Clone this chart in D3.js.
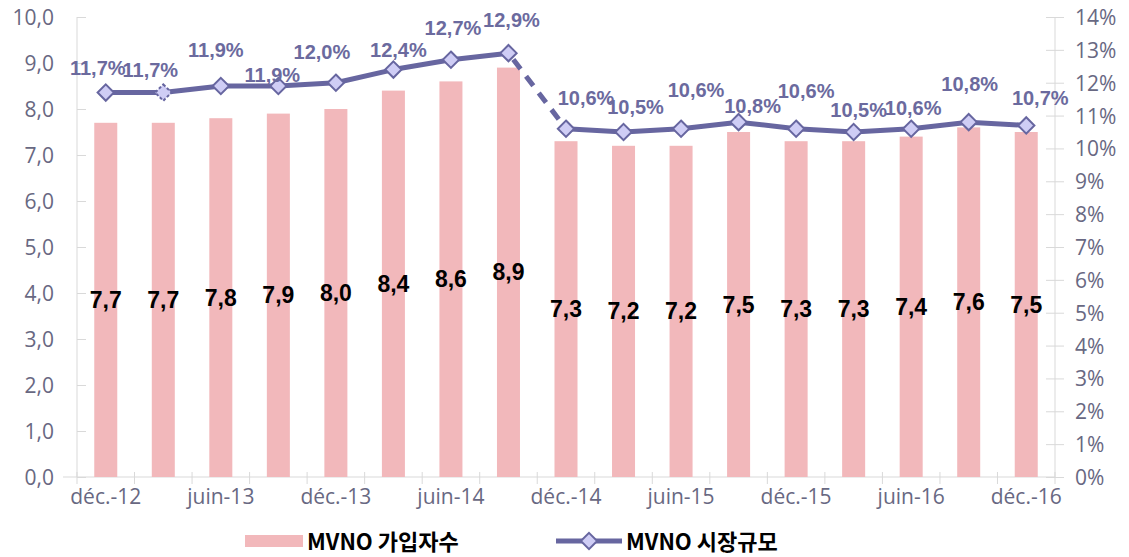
<!DOCTYPE html>
<html>
<head>
<meta charset="utf-8">
<script src="https://cdn.jsdelivr.net/npm/d3@7"></script>
<style>
  body { margin: 0; background: #fff; }
  svg text { font-family: "Open Sans", "Noto Sans", sans-serif; }
  .axis text { fill: #686882; font-size: 21px; }
  .axis path, .axis line { stroke: #d9d9d9; }
  .bar-label { font-family: "Liberation Sans", Arial, sans-serif !important; font-weight: bold; font-size: 23px; fill: #000; }
  .pct-label { font-family: "Liberation Sans", Arial, sans-serif !important; font-weight: bold; font-size: 20px; fill: #6b6a9e; }
  .legend text { font-family: "Noto Sans CJK KR", "Liberation Sans", sans-serif !important; font-weight: bold; font-size: 22px; fill: #000; }
</style>
</head>
<body>
<svg id="chart"></svg>
<script>
// ========== data
const categories = ['déc.-12', 'mars-13', 'juin-13', 'sept.-13', 'déc.-13', 'mars-14', 'juin-14', 'sept.-14',
  'déc.-14', 'mars-15', 'juin-15', 'sept.-15', 'déc.-15', 'mars-16', 'juin-16', 'sept.-16', 'déc.-16'];
const subscribers = [7.7, 7.7, 7.8, 7.9, 8.0, 8.4, 8.6, 8.9, 7.3, 7.2, 7.2, 7.5, 7.3, 7.3, 7.4, 7.6, 7.5];
const marketShare = [11.7, 11.7, 11.9, 11.9, 12.0, 12.4, 12.7, 12.9, 10.6, 10.5, 10.6, 10.8, 10.6, 10.5, 10.6, 10.8, 10.7];
const leftTicks = [0, 1, 2, 3, 4, 5, 6, 7, 8, 9, 10];
const rightTicks = [0, 1, 2, 3, 4, 5, 6, 7, 8, 9, 10, 11, 12, 13, 14];
const legendNames = ['MVNO 가입자수', 'MVNO 시장규모'];
// label nudges [dx, dy] for the % labels, as placed in the original
const pctNudge = [[-8, -25], [-13, -23], [-5, -36], [-6, -11], [-14, -31], [5, -20], [2, -32], [3, -33],
  [20, -31], [12, -25], [15, -39], [14, -16], [10, -38], [5, -22], [2, -21], [1, -38], [14, -27]];

const W = 1129, H = 557;
const margin = {top: 17, right: 74, bottom: 80, left: 77};

const svg = d3.select('#chart').attr('width', W).attr('height', H);

const x = d3.scaleBand().domain(categories)
  .range([margin.left, W - margin.right]).paddingInner(0.6).paddingOuter(0.3);
const yL = d3.scaleLinear().domain([0, 10]).range([H - margin.bottom, margin.top]);
const yR = d3.scaleLinear().domain([0, 14]).range([H - margin.bottom, margin.top]);

const fmt1 = d3.format('.1f');
const comma = s => s.replace('.', ',');

// ========== axes
const gl = svg.append('g').attr('class', 'axis')
  .attr('transform', `translate(${margin.left},0)`)
  .call(d3.axisLeft(yL).tickValues(leftTicks).tickSize(9).tickPadding(14)
    .tickFormat(d => comma(fmt1(d))));
gl.selectAll('.tick line').attr('x2', 9);
gl.selectAll('.tick text').attr('dy', '0.36em');
gl.select('.domain').attr('d', `M0,${yL(10)}V${yL(0)}`);

const gr = svg.append('g').attr('class', 'axis')
  .attr('transform', `translate(${W - margin.right},0)`)
  .call(d3.axisRight(yR).tickValues(rightTicks).tickSize(9).tickPadding(11)
    .tickFormat(d => d + '%'));
gr.selectAll('.tick line').attr('x2', 9).attr('x1', -9);
gr.selectAll('.tick text').attr('dy', '0.36em');
gr.select('.domain').attr('d', `M0,${yR(14)}V${yR(0)}`);

// bottom axis: boundary ticks + every other label
const step = x.step();
const x0 = margin.left;
const gb = svg.append('g').attr('class', 'axis')
  .attr('transform', `translate(0,${H - margin.bottom})`);
gb.append('line').attr('x1', x0 - 14).attr('x2', W - margin.right).attr('y1', 0).attr('y2', 0);
gb.selectAll('.bt').data(d3.range(categories.length + 1)).enter().append('line')
  .attr('x1', i => x0 + i * step).attr('x2', i => x0 + i * step)
  .attr('y1', -5).attr('y2', 7);
gb.selectAll('text').data(categories.filter((d, i) => i % 2 === 0)).enter().append('text')
  .attr('x', d => x(d) + x.bandwidth() / 2).attr('y', 27)
  .attr('text-anchor', 'middle').text(d => d);

// ========== bars
svg.append('g').selectAll('rect').data(subscribers).enter().append('rect')
  .attr('x', (d, i) => x(categories[i]))
  .attr('width', x.bandwidth())
  .attr('y', d => yL(d))
  .attr('height', d => yL(0) - yL(d))
  .attr('fill', '#f2b8bb');

svg.append('g').selectAll('text').data(subscribers).enter().append('text')
  .attr('class', 'bar-label')
  .attr('x', (d, i) => x(categories[i]) + x.bandwidth() / 2)
  .attr('y', d => (yL(d) + yL(0)) / 2 + 8)
  .attr('text-anchor', 'middle')
  .text(d => comma(fmt1(d)));

// ========== line
const cx = i => x(categories[i]) + x.bandwidth() / 2;
const pts = marketShare.map((v, i) => [cx(i), yR(v)]);
const lineColor = '#6766a0';
const line = d3.line();

svg.append('path').attr('d', line(pts.slice(0, 8)))
  .attr('fill', 'none').attr('stroke', lineColor).attr('stroke-width', 5).attr('stroke-linejoin', 'round');
svg.append('path').attr('d', line(pts.slice(7, 9)))
  .attr('fill', 'none').attr('stroke', lineColor).attr('stroke-width', 5)
  .attr('stroke-dasharray', '12,9').attr('stroke-dashoffset', -8);
svg.append('path').attr('d', line(pts.slice(8)))
  .attr('fill', 'none').attr('stroke', lineColor).attr('stroke-width', 5).attr('stroke-linejoin', 'round');

const diamond = d3.symbol().type(d3.symbolDiamond2).size(170);
svg.append('g').selectAll('path').data(pts).enter().append('path')
  .attr('transform', d => `translate(${d[0]},${d[1]})`)
  .attr('d', diamond)
  .attr('fill', '#cfcdf5').attr('stroke', lineColor).attr('stroke-width', 2)
  .attr('stroke-dasharray', (d, i) => i === 1 ? '3,2' : null);

svg.append('g').selectAll('text').data(marketShare).enter().append('text')
  .attr('class', 'pct-label')
  .attr('x', (d, i) => cx(i) + pctNudge[i][0])
  .attr('y', (d, i) => yR(d) + pctNudge[i][1] + 7)
  .attr('text-anchor', 'middle')
  .text(d => comma(fmt1(d)) + '%');

// ========== legend
const lg = svg.append('g').attr('class', 'legend');
lg.append('rect').attr('x', 245).attr('y', 535).attr('width', 58).attr('height', 12).attr('fill', '#f2b8bb');
lg.append('text').attr('x', 307).attr('y', 550).text(legendNames[0]);
lg.append('line').attr('x1', 556).attr('x2', 622).attr('y1', 541).attr('y2', 541)
  .attr('stroke', lineColor).attr('stroke-width', 5);
lg.append('path').attr('transform', 'translate(589,541)').attr('d', diamond)
  .attr('fill', '#cfcdf5').attr('stroke', lineColor).attr('stroke-width', 2);
lg.append('text').attr('x', 626).attr('y', 550).text(legendNames[1]);
</script>
</body>
</html>
